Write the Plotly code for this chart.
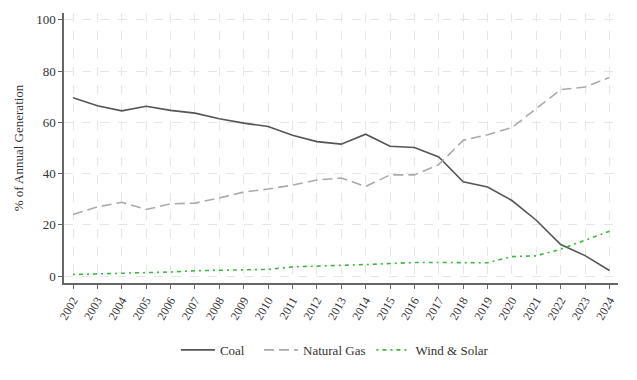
import plotly.graph_objects as go

years = list(range(2002, 2025))
coal = [69.6, 66.5, 64.5, 66.3, 64.7, 63.6, 61.4, 59.7, 58.4, 55.0, 52.5, 51.5, 55.4,
        50.7, 50.2, 46.5, 36.8, 34.8, 29.5, 21.8, 12.3, 8.0, 2.2]
gas = [24.0, 27.0, 28.8, 26.0, 28.2, 28.5, 30.5, 32.8, 34.0, 35.5, 37.5, 38.3, 35.0,
       39.5, 39.5, 43.5, 53.0, 55.2, 58.0, 65.5, 72.8, 73.8, 77.5]
wind_solar = [0.6, 0.8, 1.2, 1.4, 1.6, 2.1, 2.3, 2.5, 2.6, 3.6, 3.8, 4.2, 4.5,
              4.8, 5.3, 5.3, 5.2, 5.2, 7.6, 7.9, 10.5, 14.0, 17.5]
y_ticks = [0, 20, 40, 60, 80, 100]

font = "Liberation Serif, Times New Roman, serif"

fig = go.Figure()
fig.add_trace(go.Scatter(x=years, y=coal, name="Coal", mode="lines", legend="legend",
                         line=dict(color="#555555", width=1.6, dash="solid")))
fig.add_trace(go.Scatter(x=years, y=gas, name="Natural Gas", mode="lines", legend="legend2",
                         line=dict(color="#aaaaaa", width=1.6, dash="10px,5px")))
fig.add_trace(go.Scatter(x=years, y=wind_solar, name="Wind & Solar", mode="lines", legend="legend3",
                         line=dict(color="#3cb83c", width=1.6, dash="2px,4px,4px,4px")))

leg_common = dict(orientation="h", y=-0.248, yanchor="middle", xanchor="left",
                  font=dict(family=font, size=13, color="#333333"),
                  bgcolor="rgba(0,0,0,0)", itemwidth=34)

fig.update_layout(
    width=629, height=372,
    margin=dict(l=56, r=19, t=5, b=97),
    paper_bgcolor="white", plot_bgcolor="white",
    font=dict(family=font, size=13, color="#333333"),
    showlegend=True,
    legend=dict(x=0.202, **leg_common),
    legend2=dict(x=0.352, **leg_common),
    legend3=dict(x=0.555, **leg_common),
    xaxis=dict(
        range=[2001.63, 2024.35],
        tickmode="array", tickvals=years, ticktext=[str(y) for y in years],
        tickangle=-60, tickfont=dict(size=12, color="#333333"),
        showgrid=True, gridcolor="#e6e6e6", griddash="dash", gridwidth=1,
        showline=True, linecolor="#666666", linewidth=1.5,
        ticks="outside", ticklen=4, tickcolor="#666666",
        zeroline=False, automargin=False,
    ),
    yaxis=dict(
        range=[-2.7, 102.7],
        tickmode="array", tickvals=y_ticks,
        tickfont=dict(size=13, color="#333333"),
        title=dict(text="% of Annual Generation", font=dict(size=13, color="#333333"), standoff=10),
        showgrid=True, gridcolor="#e6e6e6", griddash="dash", gridwidth=1,
        showline=True, linecolor="#666666", linewidth=1.5,
        ticks="outside", ticklen=4, tickcolor="#666666",
        zeroline=False, automargin=False,
    ),
)

fig.write_html("out.html")
